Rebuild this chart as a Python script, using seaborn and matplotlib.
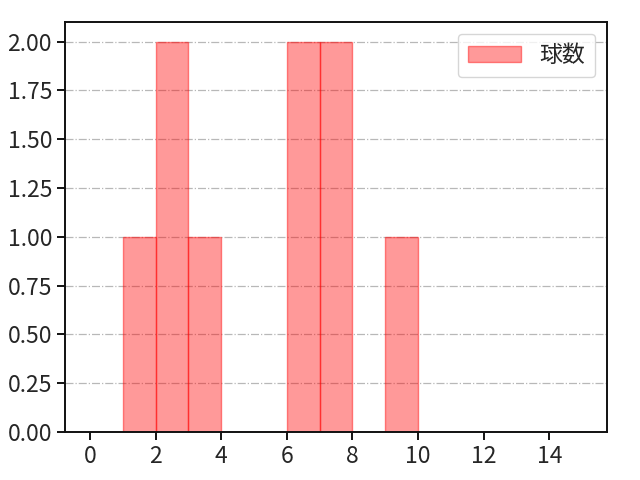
import numpy as np
import pandas as pd
import matplotlib
matplotlib.use('Agg')
import matplotlib.pyplot as plt
import seaborn as sns
from matplotlib.ticker import FormatStrFormatter, MultipleLocator

# データ（ヒストグラムの元の値）
pitch_values = [1, 2, 2, 3, 6, 6, 7, 7, 9]
bin_edges = list(range(0, 16))
label = '球数'

sns.set_style('ticks')
plt.rcParams['font.family'] = ['Noto Sans CJK JP', 'DejaVu Sans']

df = pd.DataFrame({'value': pitch_values})

fig, ax = plt.subplots(figsize=(6.4, 4.8), dpi=100)
sns.histplot(data=df, x='value', bins=bin_edges, color='red', alpha=0.4,
             edgecolor=(1, 0, 0, 0.45), linewidth=1.0, label=label, ax=ax)

ax.set_xlim(-0.75, 15.75)
ax.set_xticks(range(0, 15, 2))
ax.yaxis.set_major_locator(MultipleLocator(0.25))
ax.yaxis.set_major_formatter(FormatStrFormatter('%.2f'))
ax.grid(axis='y', linestyle='-.', color='#b8b8b8', linewidth=0.9)
ax.set_axisbelow(True)
ax.set_xlabel('')
ax.set_ylabel('')
ax.tick_params(labelsize=16.5, length=6, width=1.3, color='black')
for s in ax.spines.values():
    s.set_visible(True)
    s.set_color('#111111')
    s.set_linewidth(1.4)
ax.legend(fontsize=16.5, loc='upper right', handlelength=2.3, borderpad=0.45)

fig.subplots_adjust(left=0.102, right=0.948, top=0.954, bottom=0.1)
fig.savefig('out.png', dpi=100)
